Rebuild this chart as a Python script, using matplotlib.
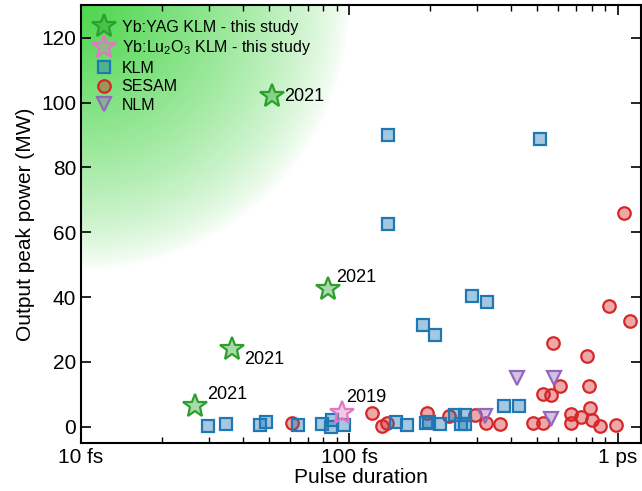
import numpy as np
import matplotlib.pyplot as plt
from matplotlib.colors import to_rgba

plt.rcParams['font.family'] = ['Liberation Sans', 'DejaVu Sans']
plt.rcParams['mathtext.fontset'] = 'custom'
plt.rcParams['mathtext.rm'] = 'Liberation Sans'

# pulse duration (fs) and output peak power (MW)
yag_t = [26.6, 36.5, 83.2, 51.5]
yag_p = [6.5, 24.1, 42.6, 102.2]
yag_year = ['2021', '2021', '2021', '2021']

lu_t = [93.5]
lu_p = [4.2]
lu_year = ['2019']

klm_t = [29.8, 34.7, 46.4, 48.7, 64.3, 79.2, 85.9, 85.4, 95.9, 148.6, 163.4,
         193, 197.7, 216.7, 247.4, 268.7, 259.6, 268.7, 376, 430, 188, 208,
         286.5, 326, 138.7, 138.7, 515]
klm_p = [0.1, 0.8, 0.4, 1.5, 0.4, 0.8, 2.2, 0.0, 0.6, 1.5, 0.6,
         1.1, 1.5, 0.8, 3.7, 3.7, 0.8, 0.9, 6.3, 6.3, 31.3, 28.4,
         40.3, 38.4, 62.7, 90.0, 88.7]

sesam_t = [61.2, 121.6, 132.5, 138.3, 195, 234.9, 295, 324, 365, 484, 527,
           527, 566, 608, 575, 671, 671, 730, 791, 801, 861, 989, 771, 780,
           925, 1109, 1059]
sesam_p = [1.1, 4.2, 0.1, 1.1, 4.2, 3.4, 3.7, 1.3, 0.8, 1.3, 1.3,
           10.1, 9.9, 12.5, 25.7, 4.0, 1.3, 3.0, 5.8, 2.2, 0.3, 0.6, 21.7, 12.7,
           37.2, 32.5, 65.8]

nlm_t = [321, 421, 578, 565]
nlm_p = [3.2, 15.0, 15.0, 2.4]

fig = plt.figure(figsize=(6.42, 4.91), dpi=100)
ax = fig.add_axes([0.1262, 0.0978, 0.8715, 0.8912])

# green glow in the upper-left corner
w_px, h_px = 0.8715 * 642, 0.8912 * 491
u = np.linspace(0, 1, 400)
v = np.linspace(0, 1, 400)
U, V = np.meshgrid(u, v)
r = np.sqrt((U * w_px / 268) ** 2 + ((1 - V) * h_px / 265) ** 2)
alpha = np.clip(1 - r, 0, 1) ** 0.75
glow = np.zeros((400, 400, 4))
glow[..., 0] = 0.30
glow[..., 1] = 0.84
glow[..., 2] = 0.30
glow[..., 3] = alpha
ax.imshow(glow, extent=[0, 1, 0, 1], origin='lower', transform=ax.transAxes,
          aspect='auto', zorder=0, interpolation='bilinear')


def face(c):
    return to_rgba(c, 0.4)


ax.plot(sesam_t, sesam_p, 'o', ms=9, mec='tab:red', mfc=face('tab:red'),
        mew=1.6, ls='none', label='SESAM', zorder=3)
ax.plot(nlm_t, nlm_p, 'v', ms=10, mec='tab:purple', mfc=face('tab:purple'),
        mew=1.6, ls='none', label='NLM', zorder=3)
ax.plot(klm_t, klm_p, 's', ms=8.5, mec='tab:blue', mfc=face('tab:blue'),
        mew=1.6, ls='none', label='KLM', zorder=4)
ax.plot(yag_t, yag_p, '*', ms=18, mec='tab:green', mfc=face('tab:green'),
        mew=1.6, ls='none', label='Yb:YAG KLM - this study', zorder=5)
ax.plot(lu_t, lu_p, '*', ms=18, mec='tab:pink', mfc=face('tab:pink'),
        mew=1.6, ls='none', label='Yb:Lu$_2$O$_3$ KLM - this study', zorder=5)

# year labels next to the stars
offsets = [(9, 8), (9, -8), (6, 8), (9, -1)]
for t, p, yr, off in zip(yag_t, yag_p, yag_year, offsets):
    ax.annotate(yr, (t, p), xytext=off, textcoords='offset points',
                fontsize=13, va='center', ha='left', zorder=6)
ax.annotate(lu_year[0], (lu_t[0], lu_p[0]), xytext=(3, 11),
            textcoords='offset points', fontsize=13, va='center', ha='left', zorder=6)

ax.set_xscale('log')
ax.set_xlim(10, 1216)
ax.set_ylim(-5, 130)
ax.set_xticks([10, 100, 1000])
ax.set_xticklabels(['10 fs', '100 fs', '1 ps'])
ax.set_yticks([0, 20, 40, 60, 80, 100, 120])
ax.set_xlabel('Pulse duration', fontsize=15, labelpad=1)
ax.set_ylabel('Output peak power (MW)', fontsize=15, labelpad=4)

ax.tick_params(which='both', direction='in', top=True, right=True, labelsize=15)
ax.tick_params(which='major', length=7, width=1.2)
ax.tick_params(which='minor', length=4, width=1.0)
for s in ax.spines.values():
    s.set_linewidth(1.5)

handles, labels = ax.get_legend_handles_labels()
order = [3, 4, 2, 0, 1]
ax.legend([handles[i] for i in order], [labels[i] for i in order],
          loc='upper left', bbox_to_anchor=(0.0125, 0.982), frameon=False,
          fontsize=11.5, handlelength=1.2, handletextpad=0.5, labelspacing=0.22,
          borderaxespad=0.2, borderpad=0.2)

fig.savefig('out.png', dpi=100)
